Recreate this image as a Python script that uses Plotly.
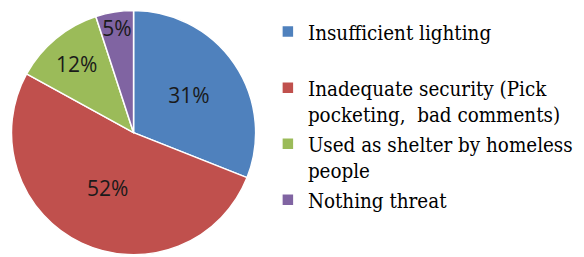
import plotly.graph_objects as go

labels = ["Insufficient lighting<br> ",
          "Inadequate security (Pick<br>pocketing,  bad comments)",
          "Used as shelter by homeless<br>people",
          "Nothing threat"]
values = [31, 52, 12, 5]
colors = ["#4F81BD", "#C0504D", "#9BBB59", "#8064A2"]

fig = go.Figure(go.Pie(
    labels=labels,
    values=values,
    sort=False,
    direction="clockwise",
    rotation=0,
    marker=dict(colors=colors, line=dict(color="white", width=1.5)),
    texttemplate="%{percent:.0%}",
    textposition="inside",
    insidetextorientation="horizontal",
    insidetextfont=dict(family="Open Sans", size=21, color="#1a1a1a"),
    domain=dict(x=[0.0, 0.43], y=[0.04, 0.99]),
    showlegend=True,
    hoverinfo="label+percent",
))

fig.update_layout(
    width=584, height=257,
    margin=dict(l=0, r=0, t=0, b=0),
    paper_bgcolor="white",
    plot_bgcolor="white",
    uniformtext=dict(minsize=21, mode="show"),
    legend=dict(
        x=0.445, y=0.985, xanchor="left", yanchor="top",
        font=dict(family="DejaVu Serif Condensed", size=20.4, color="black"),
        itemwidth=30,
        valign="top",
        tracegroupgap=0,
    ),
)

fig.write_html("out.html")
